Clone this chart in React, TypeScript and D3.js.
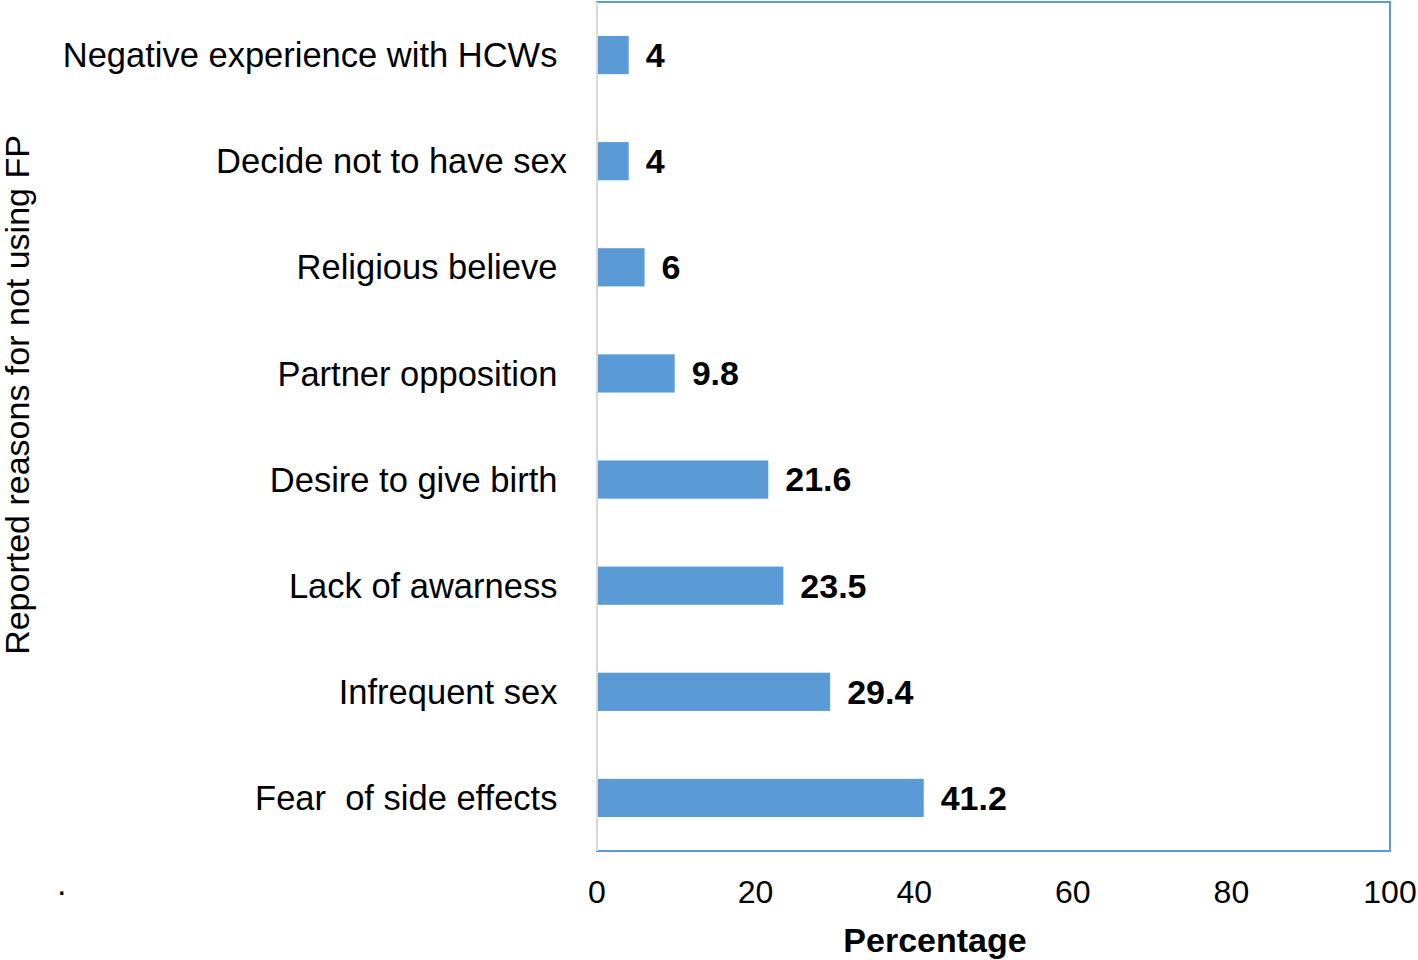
import React from 'react';
import * as d3 from 'd3';

// reasons, listed top to bottom (trailing spaces kept as in the original labels)
const categories = [
  'Negative experience with HCWs ',
  'Decide not to have sex',
  'Religious believe ',
  'Partner opposition ',
  'Desire to give birth ',
  'Lack of awarness ',
  'Infrequent sex ',
  'Fear  of side effects ',
];
const values = [4, 4, 6, 9.8, 21.6, 23.5, 29.4, 41.2];
const valueLabels = ['4', '4', '6', '9.8', '21.6', '23.5', '29.4', '41.2'];
const xTicks = [0, 20, 40, 60, 80, 100];

const width = 1418;
const height = 960;
const plot = { left: 597, right: 1390, top: 2, bottom: 851 };
const font = '"Liberation Sans", Arial, sans-serif';
const barColor = '#5B9BD5';

export default function App() {
  const x = d3.scaleLinear().domain([0, 100]).range([plot.left, plot.right]);
  const y = d3
    .scaleBand<string>()
    .domain(categories)
    .range([plot.top, plot.bottom])
    .paddingInner(0.64)
    .paddingOuter(0.32);

  return (
    <svg
      width={width}
      height={height}
      style={{ position: 'absolute', left: 0, top: 0, background: '#fff' }}
      fontFamily={font}
    >
      {/* plot frame */}
      <rect
        x={plot.left}
        y={plot.top}
        width={plot.right - plot.left}
        height={plot.bottom - plot.top}
        fill="none"
        stroke={barColor}
        strokeWidth={2}
      />
      <line x1={plot.left} x2={plot.left} y1={plot.top} y2={plot.bottom} stroke="#d9d9d9" strokeWidth={2} />

      {categories.map((c, i) => {
        const yc = (y(c) ?? 0) + y.bandwidth() / 2;
        return (
          <g key={c}>
            <rect
              x={x(0) + 1}
              y={y(c)}
              width={x(values[i]) - x(0) - 1}
              height={y.bandwidth()}
              fill={barColor}
            />
            <text
              x={567}
              y={yc}
              dy="0.35em"
              textAnchor="end"
              fontSize={34.5}
              style={{ whiteSpace: 'pre' }}
            >
              {c}
            </text>
            <text x={x(values[i]) + 17} y={yc} dy="0.35em" fontSize={34} fontWeight="bold">
              {valueLabels[i]}
            </text>
          </g>
        );
      })}

      {xTicks.map((t) => (
        <text key={t} x={x(t)} y={903} textAnchor="middle" fontSize={32}>
          {t}
        </text>
      ))}

      <text x={935} y={952} textAnchor="middle" fontSize={34} fontWeight="bold">
        Percentage
      </text>

      <text
        transform={`translate(29,${395}) rotate(-90)`}
        textAnchor="middle"
        fontSize={34}
      >
        Reported reasons for not using FP
      </text>

      <text x={57} y={895} fontSize={34}>
        .
      </text>
    </svg>
  );
}
